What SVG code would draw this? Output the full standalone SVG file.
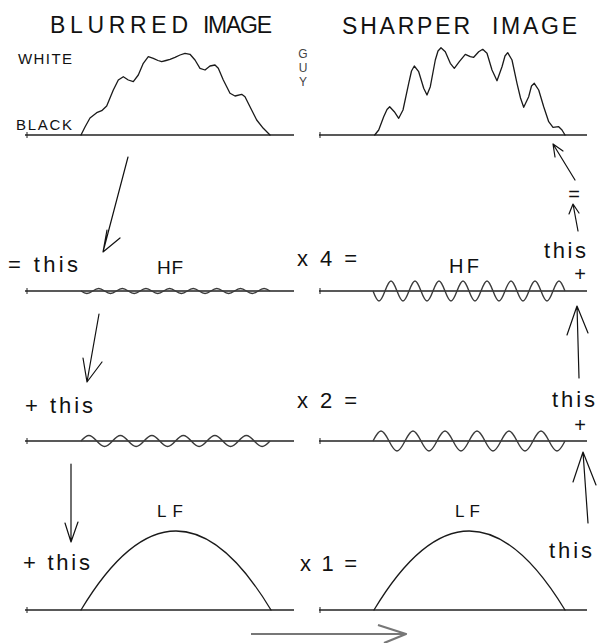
<svg xmlns="http://www.w3.org/2000/svg" width="597" height="643" viewBox="0 0 597 643">
<style>
.base{stroke:#222;stroke-width:1.4;fill:none}
.tick{stroke:#222;stroke-width:1;fill:none}
.curve{stroke:#1a1a1a;stroke-width:1.3;fill:none;stroke-linejoin:round;stroke-linecap:round}
.wave{stroke:#3a3a3a;stroke-width:1.4;fill:none}
.arrow{stroke:#111;stroke-width:1.2;fill:none;stroke-linecap:round;stroke-linejoin:round}
.arrow-gray{stroke:#777;stroke-width:2.2;fill:none;stroke-linecap:butt;stroke-linejoin:round}
.t{font-family:"Liberation Sans",Arial,Helvetica,sans-serif;fill:#111}
.h{font-size:23px}
.lab{font-size:15px}
.eq{font-size:22px}
.sm{font-size:20px}
</style>
<rect width="597" height="643" fill="#fff"/>

<g id="blurred-image">
  <text class="t h" y="33"><tspan x="50" textLength="138" lengthAdjust="spacing">BLURRED</tspan> <tspan x="203" textLength="69" lengthAdjust="spacing">IMAGE</tspan></text>
  <text class="t lab" x="18" y="64" textLength="54" lengthAdjust="spacing">WHITE</text>
  <text class="t lab" x="16" y="130" textLength="56" lengthAdjust="spacing">BLACK</text>
  <line class="base" x1="25" y1="135" x2="294" y2="135"/>
  <path class="tick" d="M27,132v6"/>
  <polyline class="curve" points="81,135 85,127 90,118 96.7,112.7 101.7,110.7 106.7,106 113.3,90 118.3,80 123.3,76.7 128.3,80 133.3,81.7 138.3,75 143.3,63.3 148.3,56.7 153.3,58.3 158,60.5 161.7,61.7 166,60.5 170,59.3 175,57.3 180,55 185,53.3 190,54.3 195,60 200,68.3 205,70 210,66 215,65 218.3,68.3 223.3,80 230,93.3 235,96 241.7,94.3 245,96.7 250,106.7 256.7,120 263.3,128.3 270,135"/>
</g>

<g id="sharper-image">
  <text class="t h" y="34"><tspan x="342" textLength="128" lengthAdjust="spacing">SHARPER</tspan> <tspan x="492" textLength="85" lengthAdjust="spacing">IMAGE</tspan></text>
  <text class="t" style="font-size:12px;fill:#444" text-anchor="middle"><tspan x="303" y="57.5">G</tspan><tspan x="303" y="71.5">U</tspan><tspan x="303" y="86">Y</tspan></text>
  <line class="base" x1="319" y1="135" x2="587" y2="135"/>
  <path class="tick" d="M320,132v6"/>
  <polyline class="curve" points="374.7,135 378.7,130 383.7,116.7 387,109.5 389.7,106.7 394.3,111.7 398.7,118.3 403,110 408.7,83.3 411.5,71 414.3,66 418.7,71.7 423.7,88.3 427,95 430.3,86.7 435.3,60 438,51 441,47.7 445.3,51.7 450.3,63.3 454.3,68.3 459.3,61.7 465.3,54.3 470.3,56.7 473.7,57.3 478.7,51.7 482.7,49.3 487,53.3 492,70 497,80.7 502,66.7 505,56 507.7,52.7 512,60 517,83.3 520.5,98 523.7,107.3 528.7,96.7 531.5,86 534.3,83.3 538.7,90 543.7,106.7 548.7,121.7 553,127.3 558.7,126.7 562,130 565,135"/>
</g>

<g id="hf-blurred">
  <text class="t" style="font-size:19px" x="157" y="274" textLength="26" lengthAdjust="spacing">HF</text>
  <text class="t eq" x="8" y="272" textLength="70" lengthAdjust="spacing">= this</text>
  <line class="base" x1="25" y1="291" x2="294" y2="291"/>
  <path class="tick" d="M27,288v6"/>
  <path class="wave" d="M81,291 c1.97,1.31 3.77,2.5 5.906,2.5 c2.13,0 3.93,-1.19 5.906,-2.5 c1.97,-1.31 3.77,-2.5 5.906,-2.5 c2.13,0 3.93,1.19 5.906,2.5 c1.97,1.31 3.77,2.5 5.906,2.5 c2.13,0 3.93,-1.19 5.906,-2.5 c1.97,-1.31 3.77,-2.5 5.906,-2.5 c2.13,0 3.930,1.19 5.906,2.5 c1.97,1.31 3.77,2.5 5.906,2.5 c2.13,0 3.93,-1.19 5.906,-2.5 c1.97,-1.31 3.77,-2.5 5.906,-2.5 c2.13,0 3.93,1.19 5.906,2.5 c1.97,1.31 3.77,2.5 5.906,2.5 c2.13,0 3.93,-1.19 5.906,-2.5 c1.97,-1.31 3.77,-2.5 5.906,-2.5 c2.13,0 3.93,1.19 5.906,2.5 c1.97,1.31 3.77,2.5 5.906,2.5 c2.13,0 3.93,-1.19 5.906,-2.5 c1.97,-1.31 3.77,-2.5 5.906,-2.5 c2.13,0 3.93,1.19 5.906,2.5 c1.97,1.31 3.77,2.5 5.906,2.5 c2.13,0 3.93,-1.19 5.906,-2.5 c1.97,-1.31 3.77,-2.5 5.906,-2.5 c2.13,0 3.93,1.19 5.906,2.5 c1.97,1.31 3.77,2.5 5.906,2.5 c2.13,0 3.93,-1.19 5.906,-2.5 c1.97,-1.31 3.77,-2.5 5.906,-2.5 c2.13,0 3.93,1.19 5.906,2.5 c1.97,1.31 3.77,2.5 5.906,2.5 c2.13,0 3.93,-1.19 5.906,-2.5 c1.97,-1.31 3.77,-2.5 5.906,-2.5 c2.13,0 3.93,1.19 5.906,2.5"/>
</g>

<g id="hf-sharper">
  <text class="t" style="font-size:20px" x="449" y="273" textLength="30" lengthAdjust="spacing">HF</text>
  <text class="t eq" x="297" y="266" textLength="60" lengthAdjust="spacing">x 4 =</text>
  <text class="t eq" x="544" y="258" textLength="42" lengthAdjust="spacing">this</text>
  <text class="t sm" x="580" y="281" text-anchor="middle">+</text>
  <line class="base" x1="319" y1="291" x2="587" y2="291"/>
  <path class="tick" d="M320,288v6"/>
  <path class="wave" d="M373,291 c2.01,5.25 3.83,10 6,10 c2.17,0 3.99,-4.75 6,-10 c2.01,-5.25 3.83,-10 6,-10 c2.17,0 3.99,4.75 6,10 c2.01,5.25 3.83,10 6,10 c2.17,0 3.99,-4.75 6,-10 c2.01,-5.25 3.83,-10 6,-10 c2.17,0 3.99,4.75 6,10 c2.01,5.25 3.83,10 6,10 c2.17,0 3.99,-4.75 6,-10 c2.01,-5.25 3.83,-10 6,-10 c2.17,0 3.99,4.75 6,10 c2.01,5.25 3.83,10 6,10 c2.17,0 3.99,-4.75 6,-10 c2.01,-5.25 3.83,-10 6,-10 c2.17,0 3.99,4.75 6,10 c2.01,5.25 3.83,10 6,10 c2.17,0 3.99,-4.75 6,-10 c2.01,-5.25 3.83,-10 6,-10 c2.17,0 3.99,4.75 6,10 c2.01,5.25 3.83,10 6,10 c2.17,0 3.99,-4.75 6,-10 c2.01,-5.25 3.83,-10 6,-10 c2.17,0 3.99,4.75 6,10 c2.01,5.25 3.83,10 6,10 c2.17,0 3.99,-4.75 6,-10 c2.01,-5.25 3.83,-10 6,-10 c2.17,0 3.99,4.75 6,10 c2.01,5.25 3.83,10 6,10 c2.17,0 3.99,-4.75 6,-10 c2.01,-5.25 3.83,-10 6,-10 c2.17,0 3.99,4.75 6,10"/>
</g>

<g id="mf-blurred">
  <text class="t eq" x="25" y="413" textLength="68" lengthAdjust="spacing">+ this</text>
  <line class="base" x1="25" y1="441" x2="294" y2="441"/>
  <path class="tick" d="M27,438v6"/>
  <path class="wave" d="M81,441 c2.63,-2.89 5.03,-5.5 7.875,-5.5 c2.85,0 5.24,2.61 7.875,5.5 c2.63,2.89 5.03,5.5 7.875,5.5 c2.85,0 5.24,-2.61 7.875,-5.5 c2.63,-2.89 5.03,-5.5 7.875,-5.5 c2.85,0 5.24,2.61 7.875,5.5 c2.63,2.89 5.03,5.5 7.875,5.5 c2.85,0 5.24,-2.61 7.875,-5.5 c2.63,-2.89 5.03,-5.5 7.875,-5.5 c2.85,0 5.24,2.61 7.875,5.5 c2.63,2.89 5.03,5.5 7.875,5.5 c2.85,0 5.24,-2.61 7.875,-5.5 c2.63,-2.89 5.03,-5.5 7.875,-5.5 c2.85,0 5.24,2.61 7.875,5.5 c2.63,2.89 5.03,5.5 7.875,5.5 c2.85,0 5.24,-2.61 7.875,-5.5 c2.63,-2.89 5.03,-5.5 7.875,-5.5 c2.85,0 5.24,2.61 7.875,5.5 c2.63,2.89 5.03,5.5 7.875,5.5 c2.85,0 5.24,-2.61 7.875,-5.5 c2.63,-2.89 5.03,-5.5 7.875,-5.5 c2.85,0 5.24,2.61 7.875,5.5 c2.63,2.89 5.03,5.5 7.875,5.5 c2.85,0 5.24,-2.61 7.875,-5.5"/>
</g>

<g id="mf-sharper">
  <text class="t eq" x="297" y="408" textLength="60" lengthAdjust="spacing">x 2 =</text>
  <text class="t eq" x="552" y="407" textLength="43" lengthAdjust="spacing">this</text>
  <text class="t sm" x="580" y="432" text-anchor="middle">+</text>
  <line class="base" x1="319" y1="441" x2="587" y2="441"/>
  <path class="tick" d="M320,438v6"/>
  <path class="wave" d="M373,441 c2.67,-5.25 5.11,-10 8,-10 c2.89,0 5.33,4.75 8,10 c2.67,5.25 5.11,10 8,10 c2.89,0 5.33,-4.75 8,-10 c2.67,-5.25 5.11,-10 8,-10 c2.89,0 5.33,4.75 8,10 c2.67,5.25 5.11,10 8,10 c2.89,0 5.33,-4.75 8,-10 c2.67,-5.25 5.11,-10 8,-10 c2.89,0 5.33,4.75 8,10 c2.67,5.25 5.11,10 8,10 c2.89,0 5.33,-4.75 8,-10 c2.67,-5.25 5.11,-10 8,-10 c2.89,0 5.33,4.75 8,10 c2.67,5.25 5.11,10 8,10 c2.89,0 5.33,-4.75 8,-10 c2.67,-5.25 5.11,-10 8,-10 c2.89,0 5.33,4.75 8,10 c2.67,5.25 5.11,10 8,10 c2.89,0 5.33,-4.75 8,-10 c2.67,-5.25 5.11,-10 8,-10 c2.89,0 5.33,4.75 8,10 c2.67,5.25 5.11,10 8,10 c2.89,0 5.33,-4.75 8,-10"/>
</g>

<g id="lf-blurred">
  <text class="t" style="font-size:17px" x="157" y="517" textLength="26" lengthAdjust="spacing">LF</text>
  <text class="t eq" x="23" y="570" textLength="67" lengthAdjust="spacing">+ this</text>
  <line class="base" x1="25" y1="610" x2="294" y2="610"/>
  <path class="tick" d="M27,607v6"/>
  <path class="curve" d="M81,610 Q176,452 271,610"/>
</g>

<g id="lf-sharper">
  <text class="t" style="font-size:17px" x="455" y="517" textLength="25" lengthAdjust="spacing">LF</text>
  <text class="t eq" x="300" y="571" textLength="57" lengthAdjust="spacing">x 1 =</text>
  <text class="t eq" x="549" y="558" textLength="43" lengthAdjust="spacing">this</text>
  <line class="base" x1="319" y1="610" x2="587" y2="610"/>
  <path class="tick" d="M320,607v6"/>
  <path class="curve" d="M374,610 Q469,452 565,610"/>
</g>

<g id="equals-sharper">
  <text class="t sm" x="574" y="201" text-anchor="middle">=</text>
</g>

<g id="connectors">
  <path class="arrow" d="M128,157 L103,252 M107,230 L103,252 L120,238"/>
  <path class="arrow" d="M99,314 L87,382 M83,358 L87,382 L102,362"/>
  <path class="arrow" d="M71,464 L71,542 M65,523 L71,542 L78,522"/>
  <path class="arrow" d="M575,180 L553,144 M555,157 L553,144 L563,151"/>
  <path class="arrow" d="M578,231 L573,204 M569,214 L573,204 L579,213"/>
  <path class="arrow" d="M579,378 L577,306 M567,335 L577,306 L588,333"/>
  <path class="arrow" d="M588,523 L583,452 M573,482 L583,452 L596,485"/>
  <path class="arrow-gray" d="M251,634 L405,634 M378,625 L406,634 L384,643"/>
</g>
</svg>
